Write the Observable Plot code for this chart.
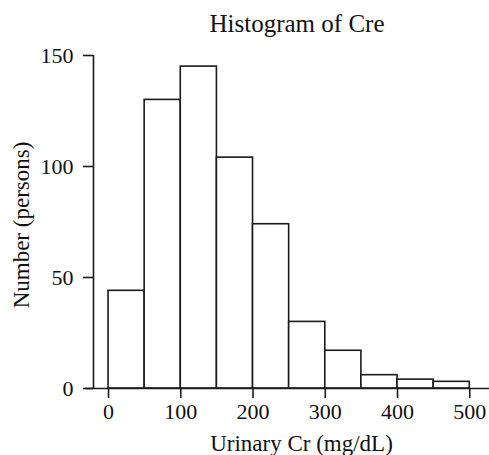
<!DOCTYPE html>
<html>
<head>
<meta charset="utf-8">
<script src="https://cdn.jsdelivr.net/npm/d3@7"></script>
<script src="https://cdn.jsdelivr.net/npm/@observablehq/plot@0.6"></script>
<style>
  html, body { margin: 0; padding: 0; background: #fff; }
  #title { height: 40px; box-sizing: border-box; padding-top: 11px; margin-left: 105px; width: 384px;
           text-align: center; font: 25px/25px "Liberation Serif", serif; color: #111; }
  #chart svg { display: block; }
</style>
</head>
<body>
<div id="title">Histogram of Cre</div>
<div id="chart"></div>
<script>
// Data (bin width 50 mg/dL)
const binStarts = [0, 50, 100, 150, 200, 250, 300, 350, 400, 450];
const binWidth = 50;
const counts = [44, 130, 145, 104, 74, 30, 17, 6, 4, 3];
const xTicks = [0, 100, 200, 300, 400, 500];
const yTicks = [0, 50, 100, 150];
const xLabel = "Urinary Cr (mg/dL)";
const yLabel = "Number (persons)";

const bins = binStarts.map((s, i) => ({x1: s, x2: s + binWidth, count: counts[i]}));

const xMin = -20.8, xMax = 527.3, xAxisStart = -31.8;
const font = "Liberation Serif, serif";

const chart = Plot.plot({
  width: 489,
  height: 415,
  marginLeft: 93,
  marginRight: 0,
  marginTop: 15,
  marginBottom: 67,
  style: {fontFamily: font, fontSize: "22px", color: "#111", background: "#fff"},
  x: {domain: [xMin, xMax], axis: null},
  y: {domain: [0, 150], axis: null},
  marks: [
    Plot.rectY(bins, {x1: "x1", x2: "x2", y: "count", fill: "white", stroke: "#1a1a1a", strokeWidth: 1.6, inset: 0}),
    Plot.ruleY([0], {x1: xAxisStart, x2: xMax, stroke: "#1a1a1a", strokeWidth: 1.6}),
    Plot.ruleX([xMin], {y1: 0, y2: 150, stroke: "#1a1a1a", strokeWidth: 1.6}),
    Plot.axisX({ticks: xTicks, tickSize: 10, tickPadding: 5, tickFormat: d => String(d), fontSize: 22, strokeWidth: 1.6, stroke: "#1a1a1a", label: null}),
    Plot.axisY({ticks: yTicks, tickSize: 10, tickPadding: 10, tickFormat: d => String(d), fontSize: 22, strokeWidth: 1.6, stroke: "#1a1a1a", label: null}),
    Plot.text([yLabel], {frameAnchor: "left", textAnchor: "middle", lineAnchor: "middle", rotate: -90, dx: -72, dy: 3, fontSize: 23, fill: "#111"}),
    Plot.text([xLabel], {frameAnchor: "bottom", textAnchor: "middle", lineAnchor: "middle", dx: 10, dy: 55, fontSize: 23, fill: "#111"})
  ]
});
document.getElementById("chart").appendChild(chart);
</script>
</body>
</html>
